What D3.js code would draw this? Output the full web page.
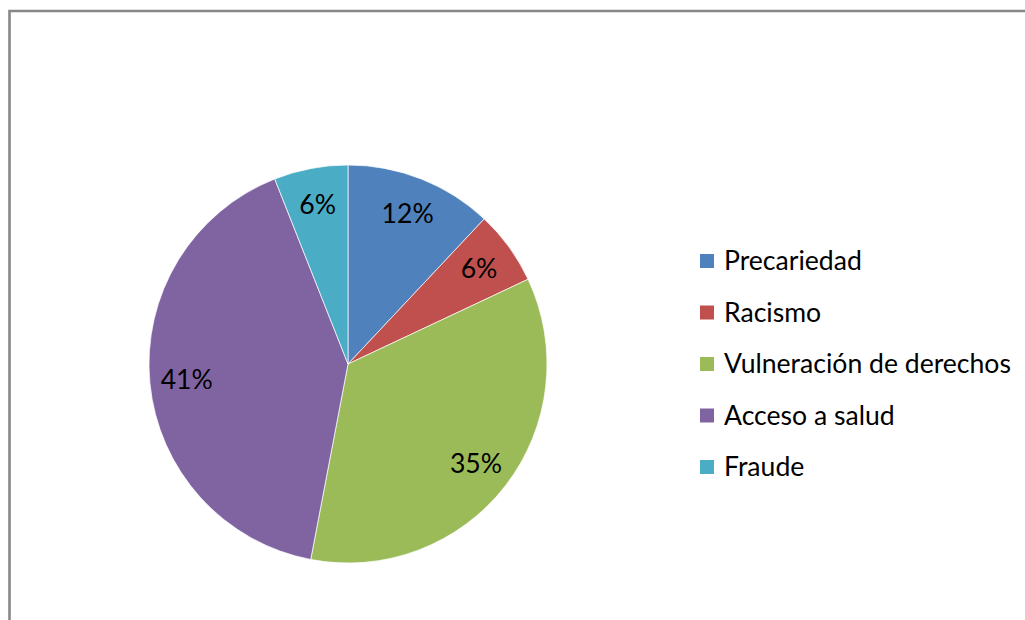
<!DOCTYPE html>
<html><head><meta charset="utf-8">
<script src="https://cdn.jsdelivr.net/npm/d3@7"></script>
<style>html,body{margin:0;padding:0;background:#fff;overflow:hidden}</style>
</head><body>
<svg id="c" width="1025" height="620"></svg>
<script>
const categories = ["Precariedad","Racismo","Vulneración de derechos","Acceso a salud","Fraude"];
const values = [12, 6, 35, 41, 6];
const colors = ["#4F81BD","#C0504D","#9BBB59","#8064A2","#4BACC6"];

const svg = d3.select("#c");
const font = "Lato, 'Open Sans', sans-serif";

// border
svg.append("path").attr("d","M9.5,620 V11 H1025").attr("fill","none").attr("stroke","#888").attr("stroke-width",2.6);

const cx = 348, cy = 364, R = 199;
const g = svg.append("g").attr("transform",`translate(${cx},${cy})`);
const pie = d3.pie().sort(null).value(d=>d)(values);
const arc = d3.arc().innerRadius(0).outerRadius(R);
const labelArc = d3.arc().innerRadius(162).outerRadius(162);
const color = d3.scaleOrdinal().domain(categories).range(colors);

g.selectAll("path.s").data(pie).enter().append("path")
  .attr("d",arc).attr("fill",(d,i)=>color(categories[i]))
  .attr("stroke","#fff").attr("stroke-width",0.7);

// font size fit for legend
const probe = svg.append("text").attr("font-family",font).attr("font-size",100).text(categories[2]);
const w100 = probe.node().getComputedTextLength();
probe.remove();
const fs = Math.min(30, 100*287/w100);

g.selectAll("text.l").data(pie).enter().append("text")
  .attr("transform",d=>`translate(${labelArc.centroid(d)})`)
  .attr("text-anchor","middle").attr("dy","0.35em")
  .attr("font-family",font).attr("font-size",fs).attr("fill","#000")
  .text(d=>d.data+"%");

const ly = d3.scalePoint().domain(categories).range([261,467]);
const lg = svg.append("g");
categories.forEach(c=>{
  lg.append("rect").attr("x",700).attr("y",ly(c)-7).attr("width",14).attr("height",14).attr("fill",color(c));
  lg.append("text").attr("x",724).attr("y",ly(c)).attr("dy","0.35em")
    .attr("font-family",font).attr("font-size",fs).attr("fill","#000").text(c);
});
</script>
</body></html>
